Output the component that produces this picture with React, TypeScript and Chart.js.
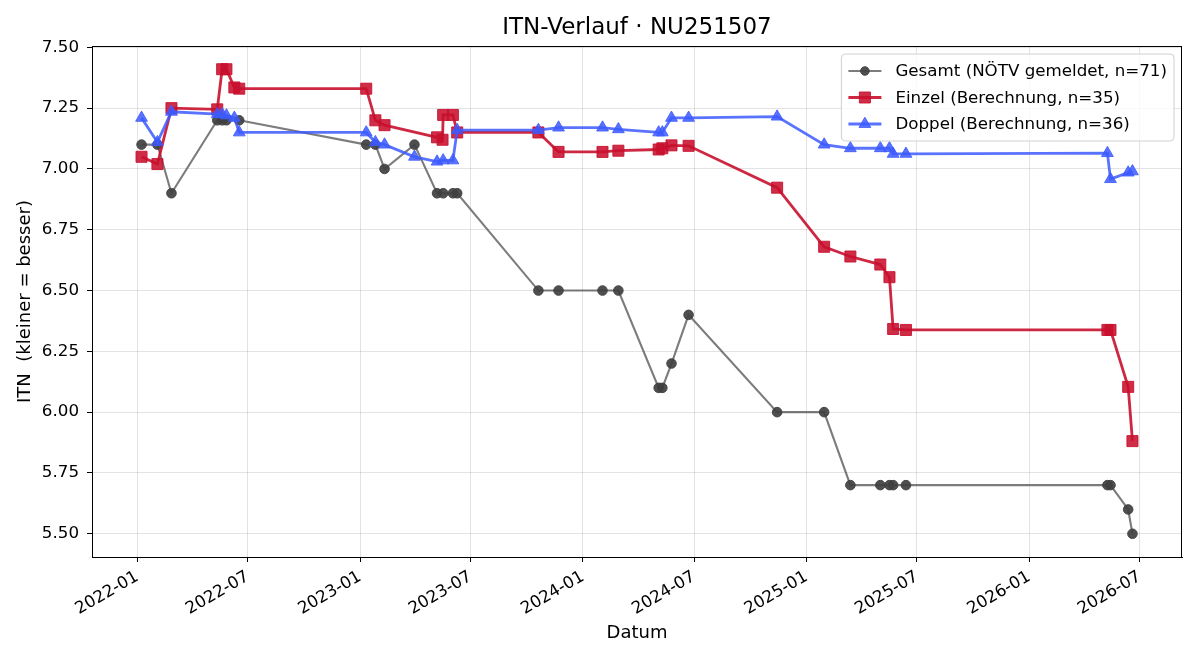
import React, { useEffect, useRef } from 'react';
import { Chart, registerables } from 'chart.js';

Chart.register(...registerables);

const TITLE = 'ITN-Verlauf · NU251507';
const X_LABEL = 'Datum';
const Y_LABEL = 'ITN  (kleiner = besser)';

const X_TICK_LABELS = ['2022-01', '2022-07', '2023-01', '2023-07', '2024-01', '2024-07', '2025-01', '2025-07', '2026-01', '2026-07'];
const Y_TICKS = [5.5, 5.75, 6.0, 6.25, 6.5, 6.75, 7.0, 7.25, 7.5];

const SERIES_LABELS = ['Gesamt (NÖTV gemeldet, n=71)', 'Einzel (Berechnung, n=35)', 'Doppel (Berechnung, n=36)'];

const GESAMT_DATES = [
  '2022-01-08', '2022-02-03', '2022-02-26', '2022-05-12', '2022-05-20', '2022-05-27', '2022-06-17',
  '2023-01-11', '2023-01-26', '2023-02-10', '2023-03-31', '2023-05-07', '2023-05-17', '2023-06-02', '2023-06-09',
  '2023-10-20', '2023-11-22', '2024-02-02', '2024-02-28', '2024-05-04', '2024-05-10', '2024-05-25', '2024-06-22',
  '2024-11-14', '2025-01-30', '2025-03-14', '2025-05-02', '2025-05-17', '2025-05-23', '2025-06-13',
  '2026-05-09', '2026-05-14', '2026-06-12', '2026-06-19',
];
const GESAMT_VALUES = [
  7.1, 7.1, 6.9, 7.2, 7.2, 7.2, 7.2,
  7.1, 7.1, 7.0, 7.1, 6.9, 6.9, 6.9, 6.9,
  6.5, 6.5, 6.5, 6.5, 6.1, 6.1, 6.2, 6.4,
  6.0, 6.0, 5.7, 5.7, 5.7, 5.7, 5.7,
  5.7, 5.7, 5.6, 5.5,
];

const EINZEL_DATES = [
  '2022-01-08', '2022-02-03', '2022-02-26', '2022-05-12', '2022-05-20', '2022-05-27', '2022-06-09', '2022-06-17',
  '2023-01-11', '2023-01-26', '2023-02-10', '2023-05-07', '2023-05-16', '2023-05-17', '2023-06-02', '2023-06-09',
  '2023-10-20', '2023-11-22', '2024-02-02', '2024-02-28', '2024-05-04', '2024-05-10', '2024-05-25', '2024-06-22',
  '2024-11-14', '2025-01-30', '2025-03-14', '2025-05-02', '2025-05-17', '2025-05-23', '2025-06-13',
  '2026-05-09', '2026-05-14', '2026-06-12', '2026-06-19',
];
const EINZEL_VALUES = [
  7.05, 7.02, 7.25, 7.245, 7.41, 7.41, 7.335, 7.33,
  7.33, 7.2, 7.18, 7.13, 7.12, 7.222, 7.222, 7.15,
  7.15, 7.07, 7.07, 7.075, 7.08, 7.085, 7.097, 7.095,
  6.923, 6.68, 6.64, 6.607, 6.555, 6.342, 6.338,
  6.338, 6.338, 6.104, 5.881,
];

const DOPPEL_DATES = [
  '2022-01-08', '2022-02-03', '2022-02-26', '2022-05-12', '2022-05-20', '2022-05-27', '2022-06-09', '2022-06-17',
  '2023-01-11', '2023-01-26', '2023-02-10', '2023-03-31', '2023-05-07', '2023-05-17', '2023-06-02', '2023-06-09',
  '2023-10-20', '2023-11-22', '2024-02-02', '2024-02-28', '2024-05-04', '2024-05-10', '2024-05-25', '2024-06-22',
  '2024-11-14', '2025-01-30', '2025-03-14', '2025-05-02', '2025-05-17', '2025-05-23', '2025-06-13',
  '2026-05-09', '2026-05-14', '2026-06-12', '2026-06-19',
];
const DOPPEL_VALUES = [
  7.21, 7.11, 7.235, 7.225, 7.225, 7.22, 7.21, 7.15,
  7.15, 7.11, 7.1, 7.05, 7.03, 7.035, 7.035, 7.16,
  7.16, 7.17, 7.17, 7.163, 7.15, 7.15, 7.21, 7.21,
  7.215, 7.1, 7.085, 7.085, 7.085, 7.062, 7.062,
  7.065, 6.958, 6.985, 6.99,
];

const FONT = '"DejaVu Sans", "Liberation Sans", sans-serif';

const toMs = (d: string) => Date.parse(d + 'T00:00:00Z');

const STYLES = [
  { line: 'rgba(80,80,80,0.75)', point: 'rgba(64,64,64,0.92)', width: 2.1, style: 'circle', radius: 4.8, legendRadius: 4.3 },
  { line: 'rgba(200,16,46,0.9)', point: 'rgba(200,16,46,0.88)', width: 2.8, style: 'rect', radius: 7.8, legendRadius: 7.8 },
  { line: 'rgba(61,90,254,0.85)', point: 'rgba(61,90,254,0.85)', width: 2.8, style: 'triangle', radius: 6.8, legendRadius: 6.8 },
];

function drawMarker(ctx: CanvasRenderingContext2D, style: string, x: number, y: number, r: number, color: string) {
  ctx.fillStyle = color;
  ctx.strokeStyle = color;
  ctx.lineWidth = 1;
  ctx.beginPath();
  if (style === 'circle') {
    ctx.arc(x, y, r, 0, Math.PI * 2);
  } else if (style === 'rect') {
    const s = Math.SQRT1_2 * r;
    ctx.rect(x - s, y - s, 2 * s, 2 * s);
  } else {
    ctx.moveTo(x, y - r);
    ctx.lineTo(x + 0.866 * r, y + 0.5 * r);
    ctx.lineTo(x - 0.866 * r, y + 0.5 * r);
    ctx.closePath();
  }
  ctx.fill();
  ctx.stroke();
}

const decorPlugin = {
  id: 'decor',
  afterDraw(chart: any) {
    const { ctx, chartArea: a } = chart;
    ctx.save();
    // frame (all four spines)
    ctx.strokeStyle = '#000';
    ctx.lineWidth = 1;
    ctx.strokeRect(Math.round(a.left) + 0.5, Math.round(a.top) + 0.5, Math.round(a.right - a.left) - 1, Math.round(a.bottom - a.top));
    // title centred over the plot area
    ctx.fillStyle = '#000';
    ctx.font = `23px ${FONT}`;
    ctx.textAlign = 'center';
    ctx.textBaseline = 'middle';
    ctx.fillText(TITLE, (a.left + a.right) / 2, 28);

    // legend
    const fs = 16.7;
    ctx.font = `${fs}px ${FONT}`;
    const textW = Math.max(...SERIES_LABELS.map((l) => ctx.measureText(l).width));
    const pad = 7, handle = 33, gap = 14, rowH = 26.5;
    const boxW = pad + handle + gap + textW + pad;
    const boxH = 87;
    const bx = a.right - 8 - boxW;
    const by = a.top + 8;
    ctx.beginPath();
    const rr = 4;
    ctx.moveTo(bx + rr, by);
    ctx.arcTo(bx + boxW, by, bx + boxW, by + boxH, rr);
    ctx.arcTo(bx + boxW, by + boxH, bx, by + boxH, rr);
    ctx.arcTo(bx, by + boxH, bx, by, rr);
    ctx.arcTo(bx, by, bx + boxW, by, rr);
    ctx.closePath();
    ctx.fillStyle = 'rgba(255,255,255,0.8)';
    ctx.fill();
    ctx.strokeStyle = '#d0d0d0';
    ctx.lineWidth = 1;
    ctx.stroke();
    SERIES_LABELS.forEach((label, i) => {
      const st = STYLES[i];
      const cy = by + 17 + i * rowH;
      const x0 = bx + pad;
      ctx.strokeStyle = st.line;
      ctx.lineWidth = st.width;
      ctx.beginPath();
      ctx.moveTo(x0, cy);
      ctx.lineTo(x0 + handle, cy);
      ctx.stroke();
      drawMarker(ctx, st.style, x0 + handle / 2, cy, st.legendRadius, st.point);
      ctx.fillStyle = '#000';
      ctx.textAlign = 'left';
      ctx.textBaseline = 'middle';
      ctx.fillText(label, x0 + handle + gap, cy + 1);
    });
    ctx.restore();
  },
};

export default function App() {
  const ref = useRef<HTMLCanvasElement | null>(null);

  useEffect(() => {
    document.body.style.margin = '0';
    const canvas = ref.current;
    if (!canvas) return;

    const seriesDates = [GESAMT_DATES, EINZEL_DATES, DOPPEL_DATES];
    const seriesValues = [GESAMT_VALUES, EINZEL_VALUES, DOPPEL_VALUES];

    const allX = seriesDates.flat().map(toMs);
    const allY = seriesValues.flat();
    const xMinD = Math.min(...allX), xMaxD = Math.max(...allX);
    const yMinD = Math.min(...allY), yMaxD = Math.max(...allY);
    const xm = (xMaxD - xMinD) * 0.05;
    const ym = (yMaxD - yMinD) * 0.05;

    const datasets = seriesDates.map((dates, i) => {
      const st = STYLES[i];
      return {
        label: SERIES_LABELS[i],
        data: dates.map((d, j) => ({ x: toMs(d), y: seriesValues[i][j] })),
        borderColor: st.line,
        borderWidth: st.width,
        backgroundColor: st.point,
        pointStyle: st.style,
        pointRadius: st.radius,
        pointHoverRadius: st.radius,
        pointBackgroundColor: st.point,
        pointBorderColor: st.point,
        pointBorderWidth: 1,
        tension: 0,
        fill: false,
        order: 3 - i,
      };
    });

    const chart = new Chart(canvas, {
      type: 'line',
      data: { datasets },
      options: {
        animation: false,
        responsive: false,
        maintainAspectRatio: false,
        events: [],
        layout: { padding: { top: 46, right: 18, left: 0, bottom: 0 } },
        plugins: {
          legend: { display: false },
          title: { display: false },
          tooltip: { enabled: false },
        },
        scales: {
          x: {
            type: 'linear',
            min: xMinD - xm,
            max: xMaxD + xm,
            afterBuildTicks: (scale: any) => {
              scale.ticks = X_TICK_LABELS.map((l) => ({ value: toMs(l + '-01') }));
            },
            afterFit: (scale: any) => {
              scale.height = 103;
            },
            ticks: {
              autoSkip: false,
              maxRotation: 30,
              minRotation: 30,
              padding: 5,
              color: '#000',
              font: { family: FONT, size: 16.7 },
              callback: (v: any) => {
                const d = new Date(Number(v));
                return `${d.getUTCFullYear()}-${String(d.getUTCMonth() + 1).padStart(2, '0')}`;
              },
            },
            grid: { color: 'rgba(0,0,0,0.11)', lineWidth: 1, tickColor: '#000', tickLength: 5, drawTicks: true },
            border: { display: true, color: '#000', width: 1 },
            title: { display: true, text: X_LABEL, color: '#000', font: { family: FONT, size: 18 }, padding: { top: 4, bottom: 16 } },
          },
          y: {
            type: 'linear',
            min: yMinD - ym,
            max: yMaxD + ym,
            afterBuildTicks: (scale: any) => {
              scale.ticks = Y_TICKS.map((v) => ({ value: v }));
            },
            afterFit: (scale: any) => {
              scale.width = 92;
            },
            ticks: {
              padding: 8,
              color: '#000',
              font: { family: FONT, size: 16.7 },
              callback: (v: any) => Number(v).toFixed(2),
            },
            grid: { color: 'rgba(0,0,0,0.11)', lineWidth: 1, tickColor: '#000', tickLength: 5, drawTicks: true },
            border: { display: true, color: '#000', width: 1 },
            title: { display: true, text: Y_LABEL, color: '#000', font: { family: FONT, size: 18 }, padding: { top: 15, bottom: 4 } },
          },
        },
      },
      plugins: [decorPlugin],
    } as any);

    return () => chart.destroy();
  }, []);

  return (
    <div style={{ width: 1200, height: 660, background: '#fff' }}>
      <canvas ref={ref} width={1200} height={660} style={{ display: 'block', width: 1200, height: 660 }} />
    </div>
  );
}
